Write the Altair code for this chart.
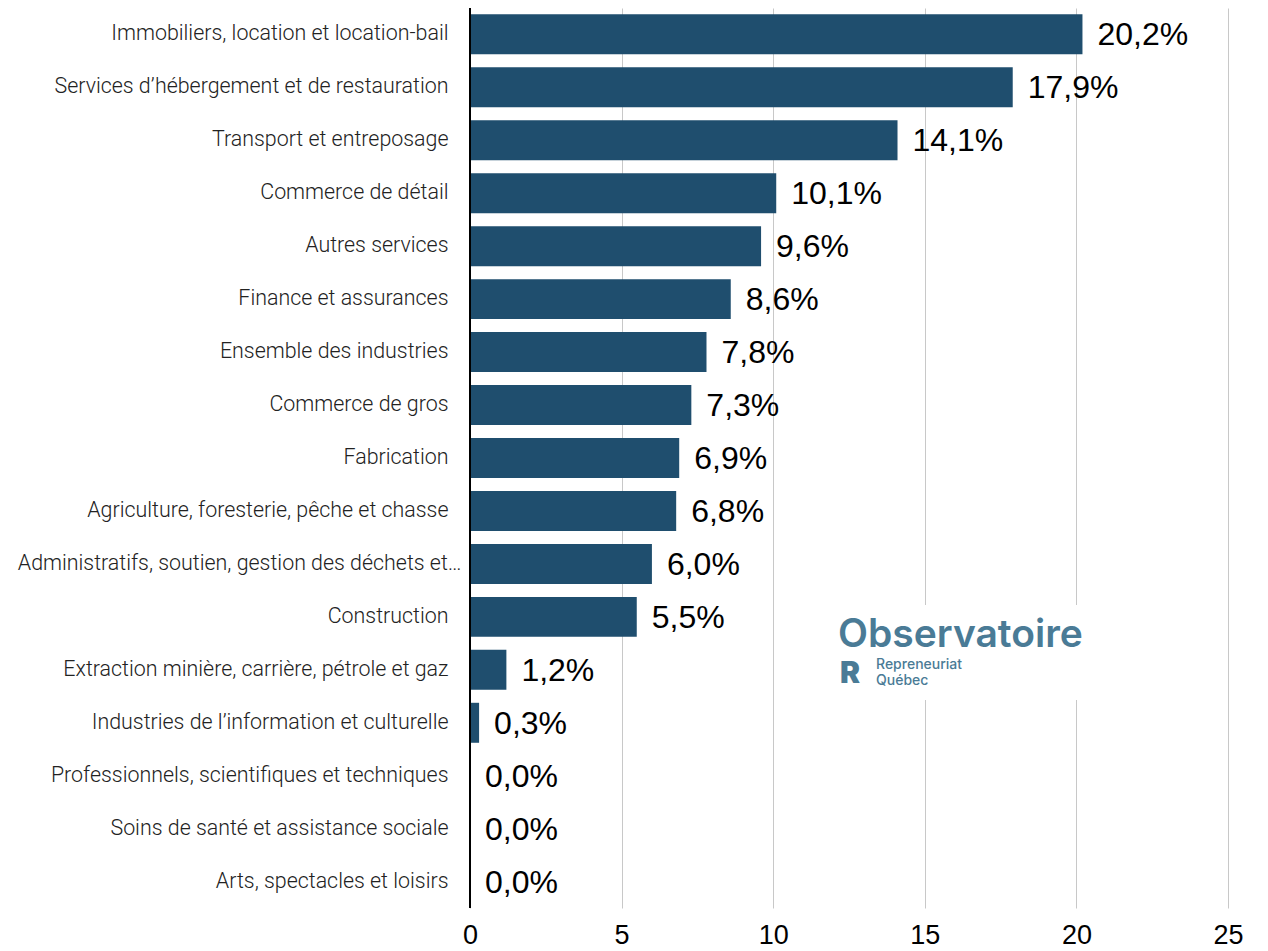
import altair as alt
import pandas as pd

categories = [
    "Immobiliers, location et location-bail",
    "Services d\u2019hébergement et de restauration",
    "Transport et entreposage",
    "Commerce de détail",
    "Autres services",
    "Finance et assurances",
    "Ensemble des industries",
    "Commerce de gros",
    "Fabrication",
    "Agriculture, foresterie, pêche et chasse",
    "Administratifs, soutien, gestion des déchets et\u2026",
    "Construction",
    "Extraction minière, carrière, pétrole et gaz",
    "Industries de l\u2019information et culturelle",
    "Professionnels, scientifiques et techniques",
    "Soins de santé et assistance sociale",
    "Arts, spectacles et loisirs",
]
values = [20.2, 17.9, 14.1, 10.1, 9.6, 8.6, 7.8, 7.3, 6.9, 6.8, 6.0, 5.5, 1.2, 0.3, 0.0, 0.0, 0.0]
x_ticks = [0, 5, 10, 15, 20, 25]

df = pd.DataFrame({"cat": categories, "val": values})
df["label"] = df["val"].map(lambda v: f"{v:.1f}".replace(".", ",") + "%")

W, H = 758, 900
BAR = "#1f4e6e"
LOGO = "#4a7b96"

y_enc = alt.Y("cat:N", sort=categories,
              scale=alt.Scale(paddingInner=0.245, paddingOuter=0.12),
              axis=alt.Axis(title=None, labelFont="Roboto", labelFontWeight=300,
                            labelFontSize=21.4, labelColor="#222222",
                            labelPadding=alt.ExprRef("indexof(datum.value, 'Administratifs') === 0 ? 9 : 22"),
                            ticks=False, domain=False, grid=False, labelLimit=500))
x_enc = alt.X("val:Q", scale=alt.Scale(domain=[0, 25], nice=False),
              axis=alt.Axis(title=None, values=x_ticks, grid=True, gridColor="#c8c8c8",
                            gridWidth=1, ticks=False, domain=False, labelFlush=False,
                            labelFont="Liberation Sans Narrow, Liberation Sans",
                            labelFontSize=27, labelColor="#000000", labelPadding=14))

bars = alt.Chart(df).mark_bar(color=BAR).encode(x=x_enc, y=y_enc)
labels = alt.Chart(df).mark_text(align="left", baseline="middle", dx=15, dy=1,
                                 font="Liberation Sans", fontSize=32, color="#000000").encode(
    x="val:Q", y=alt.Y("cat:N", sort=categories), text="label:N")

axis_line = alt.Chart(pd.DataFrame({"v": [0]})).mark_rule(color="#000000", strokeWidth=2).encode(
    x="v:Q", y=alt.value(0), y2=alt.value(H))

logo_bg = alt.Chart(pd.DataFrame({"a": [0]})).mark_rect(color="white").encode(
    x=alt.value(358), x2=alt.value(622), y=alt.value(597), y2=alt.value(692))
logo_main = alt.Chart(pd.DataFrame({"t": ["Observatoire"]})).mark_text(
    align="left", baseline="alphabetic", font="Inter", fontWeight=600, fontSize=39,
    color=LOGO).encode(x=alt.value(368), y=alt.value(639), text="t:N")
logo_r = alt.Chart(pd.DataFrame({"t": ["R"]})).mark_text(
    align="left", baseline="alphabetic", font="Inter", fontWeight=900, fontSize=30,
    color=LOGO).encode(x=alt.value(370), y=alt.value(675), text="t:N")
logo_sub = alt.Chart(pd.DataFrame({"t": ["Repreneuriat", "Québec"], "yy": [661, 677]})).mark_text(
    align="left", baseline="alphabetic", font="Inter", fontSize=14, fontWeight=500,
    color=LOGO).encode(x=alt.value(406), y=alt.Y("yy:Q", scale=None), text="t:N")

chart = alt.layer(bars, labels, axis_line, logo_bg, logo_main, logo_r, logo_sub).properties(
    width=W, height=H,
    autosize=alt.AutoSizeParams(type="none"),
    padding={"left": 462, "top": 0, "right": 32, "bottom": 43},
).configure(background="white").configure_view(stroke=None)

chart.save("out.html", embed_options={"renderer": "svg", "actions": False})
